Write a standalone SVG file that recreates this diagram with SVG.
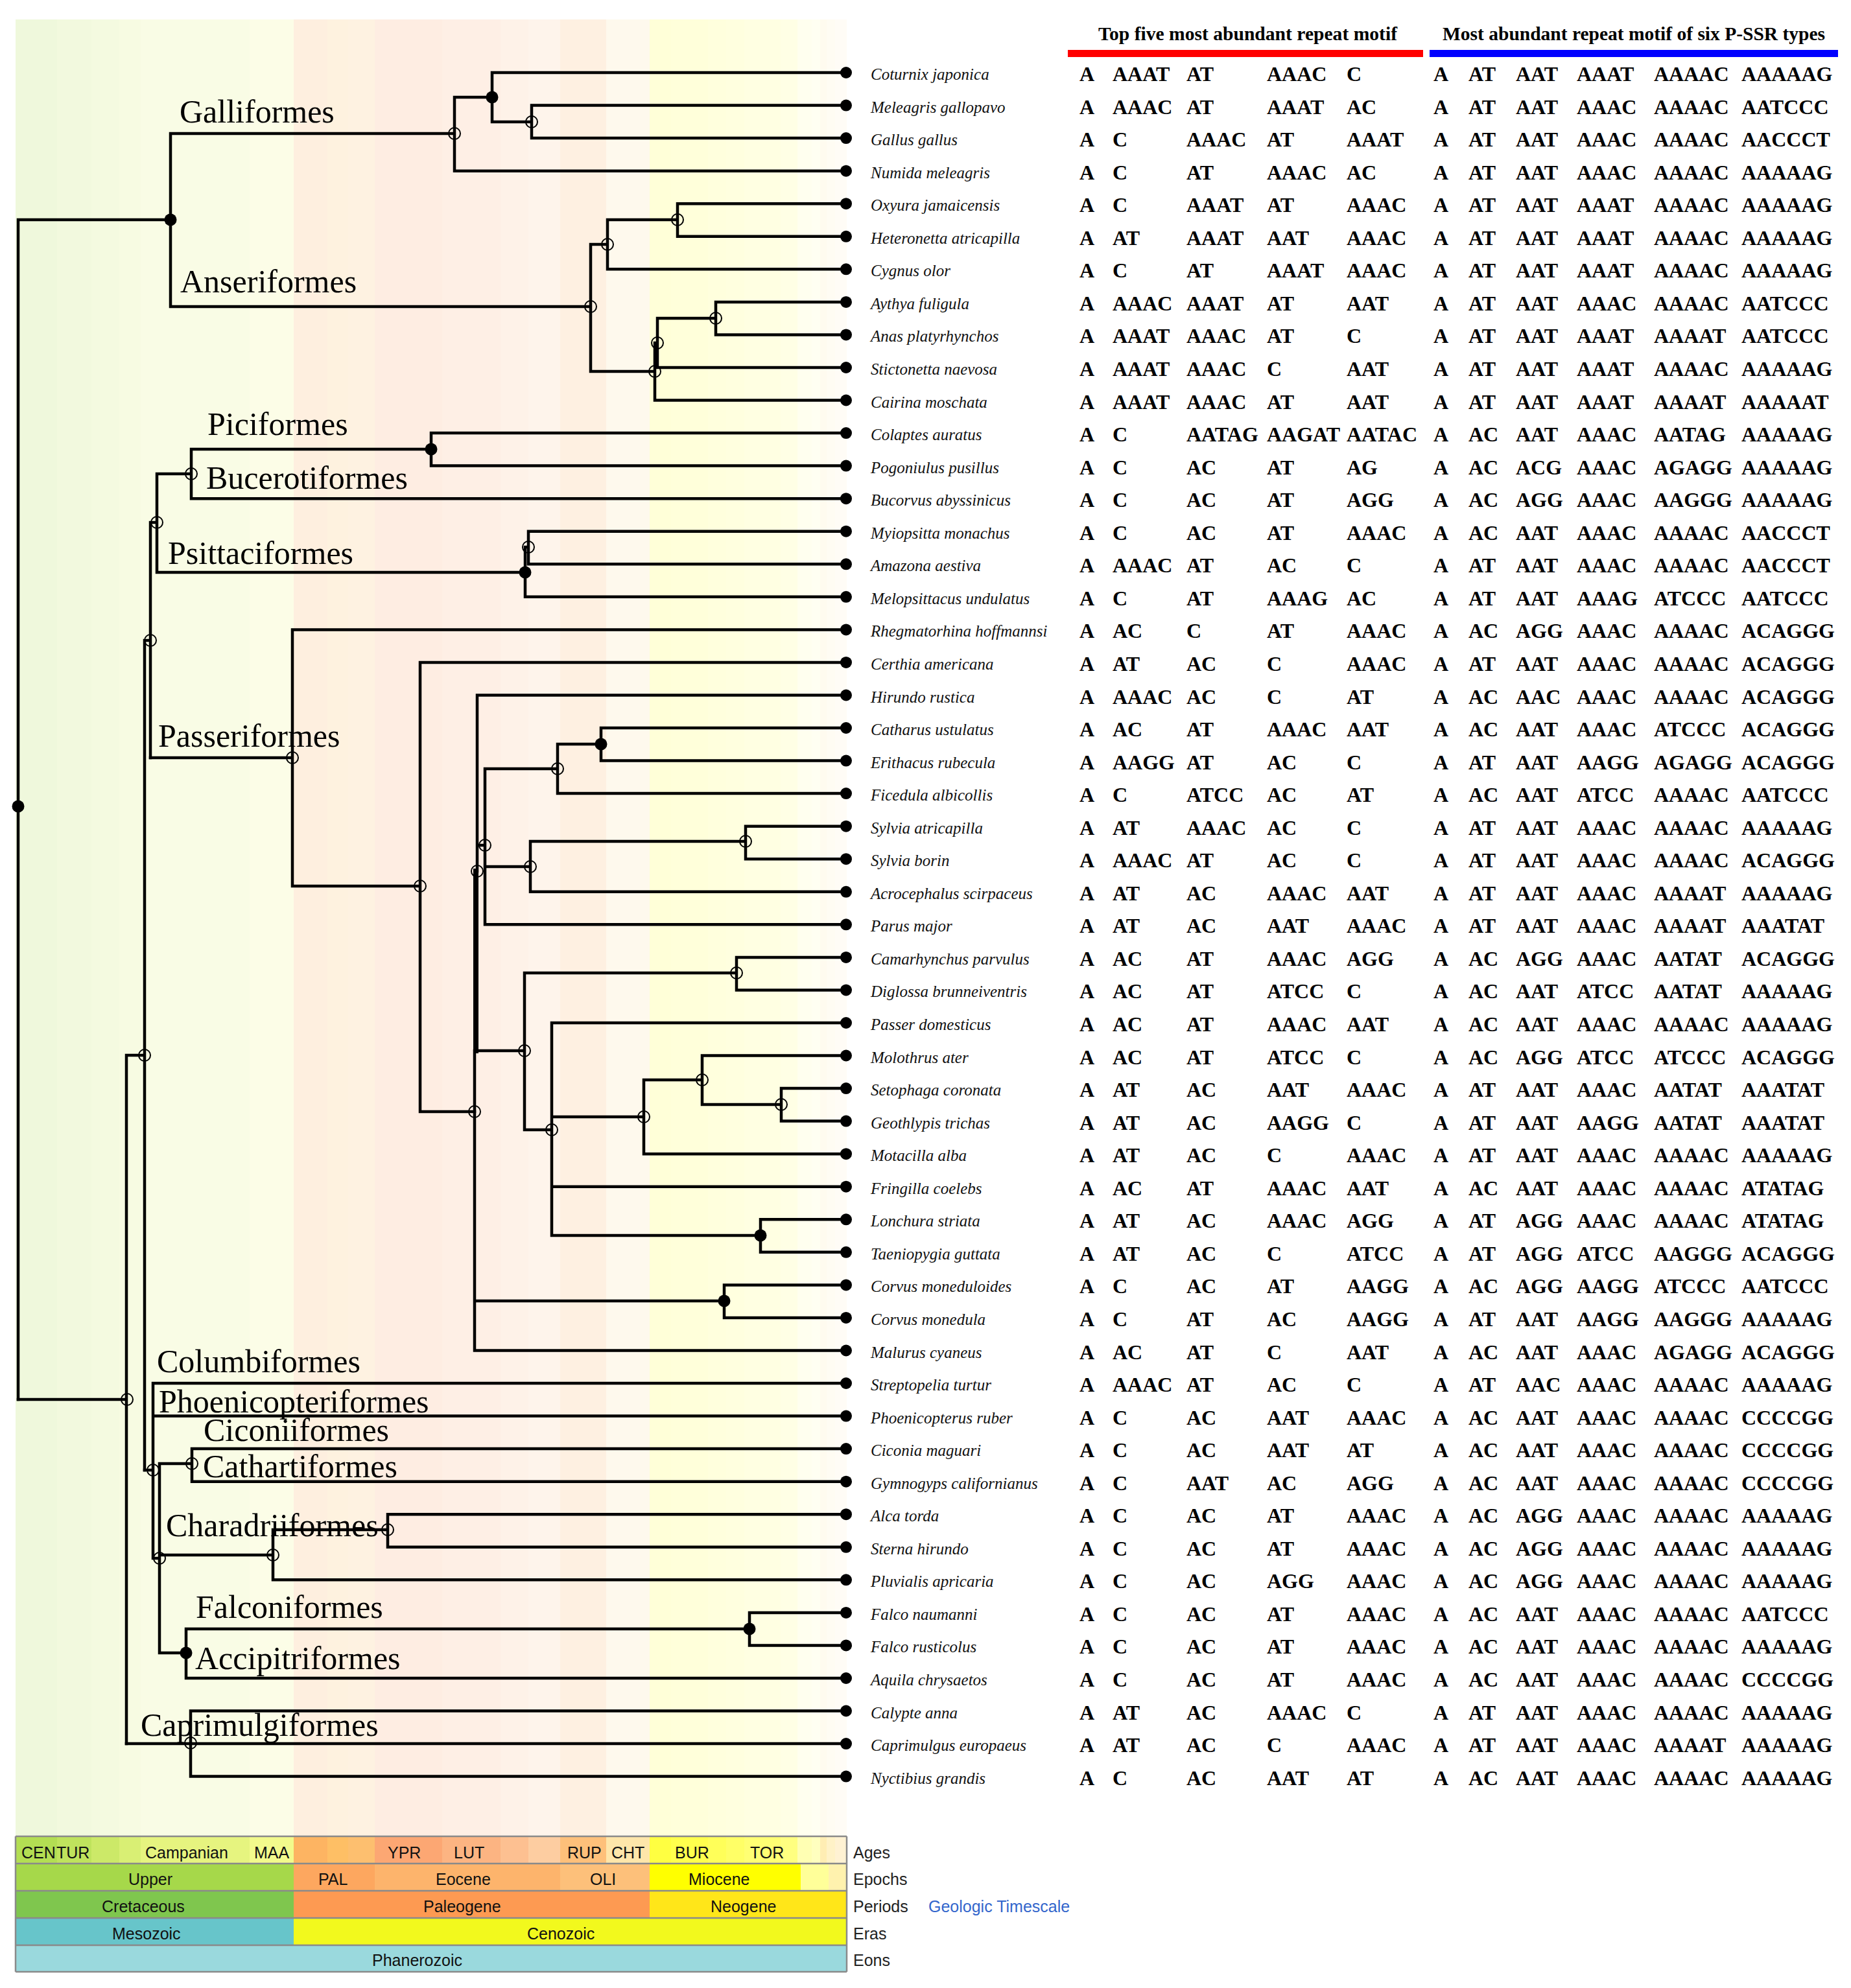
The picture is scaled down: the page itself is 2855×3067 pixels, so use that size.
<svg xmlns="http://www.w3.org/2000/svg" width="2855" height="3067" viewBox="0 0 2855 3067">
<defs>
<style>
.br{stroke:#000;stroke-width:4.5;fill:none;stroke-linecap:square}
.on{fill:none;stroke:#000;stroke-width:2}
.fn{fill:#000}
.lf{fill:#000}
.sp{font-family:"Liberation Serif","Times New Roman",serif;font-style:italic;font-size:25px;fill:#111}
.m{font-family:"Liberation Serif","Times New Roman",serif;font-weight:bold;font-size:32px;fill:#000}
.cl{font-family:"Liberation Serif","Times New Roman",serif;font-size:50px;fill:#000}
.hd{font-family:"Liberation Serif","Times New Roman",serif;font-weight:bold;font-size:29px;fill:#000}
.ts{font-family:"Liberation Sans",Arial,sans-serif;font-size:25px;fill:#111}
.tl{font-family:"Liberation Sans",Arial,sans-serif;font-size:25px;fill:#222}
</style>
</defs>
<rect x="0" y="0" width="2855" height="3067" fill="#fff"/>
<g id="background-stripes" opacity="0.2">
<rect x="24" y="30" width="64" height="2802" fill="#B3DE53"/>
<rect x="88" y="30" width="53" height="2802" fill="#BFE35D"/>
<rect x="141" y="30" width="43" height="2802" fill="#CCE968"/>
<rect x="184" y="30" width="33" height="2802" fill="#D9EF74"/>
<rect x="217" y="30" width="168" height="2802" fill="#E6F47F"/>
<rect x="385" y="30" width="68" height="2802" fill="#F2FA8C"/>
<rect x="453" y="30" width="52" height="2802" fill="#FDB462"/>
<rect x="505" y="30" width="32" height="2802" fill="#FEBF65"/>
<rect x="537" y="30" width="41" height="2802" fill="#FDBF6F"/>
<rect x="578" y="30" width="104" height="2802" fill="#FCA773"/>
<rect x="682" y="30" width="90" height="2802" fill="#FCB482"/>
<rect x="772" y="30" width="43" height="2802" fill="#FDC091"/>
<rect x="815" y="30" width="49" height="2802" fill="#FDCDA1"/>
<rect x="864" y="30" width="71" height="2802" fill="#FEB96C"/>
<rect x="935" y="30" width="67" height="2802" fill="#FEE6AA"/>
<rect x="1002" y="30" width="33" height="2802" fill="#FFFF41"/>
<rect x="1035" y="30" width="57" height="2802" fill="#FFFF4D"/>
<rect x="1092" y="30" width="28" height="2802" fill="#FFFF59"/>
<rect x="1120" y="30" width="28" height="2802" fill="#FFFF66"/>
<rect x="1148" y="30" width="56" height="2802" fill="#FFFF73"/>
<rect x="1204" y="30" width="26" height="2802" fill="#FFFF80"/>
<rect x="1230" y="30" width="22" height="2802" fill="#FFFFB3"/>
<rect x="1252" y="30" width="13" height="2802" fill="#FFFFBF"/>
<rect x="1265" y="30" width="10" height="2802" fill="#FFEDB3"/>
<rect x="1275" y="30" width="13" height="2802" fill="#FFF2C7"/>
<rect x="1288" y="30" width="18" height="2802" fill="#FFF2D3"/>
</g>

<g id="headers">
<text class="hd" x="1694" y="62" textLength="461" lengthAdjust="spacingAndGlyphs">Top five most abundant repeat motif</text>
<rect x="1647" y="77" width="548" height="11" fill="#ff0000"/>
<text class="hd" x="2225" y="62" textLength="590" lengthAdjust="spacingAndGlyphs">Most abundant repeat motif of six P-SSR types</text>
<rect x="2205" y="77" width="630" height="11" fill="#0000ff"/>
</g>

<g id="connectors" class="br">
<path d="M28 339V2159M28 339H263M263 206V473M263 206H701M701 150V263.7M701 150H759M759 112V188M759 112H1305M759 188H820M820 162.6V213.1M820 162.6H1305M820 213.1H1305M701 263.7H1305M263 473H911M911 377V573M911 377H937M937 339V415.3M937 339H1045M1045 314.2V364.8M1045 314.2H1305M1045 364.8H1305M937 415.3H1305M911 573H1010M1010 529V617.5M1010 617.5H1305M1014 491V567M1014 491H1104M1104 465.9V516.4M1104 465.9H1305M1104 516.4H1305M1014 567H1305"/>
<path d="M195 1628V2690M28 2159H195M195 1628H223M223 988V2268M223 988H232M232 806V1169M232 806H242M242 731V883M242 731H295M295 693V769.2M295 693H665M665 668.1V718.6M665 668.1H1305M665 718.6H1305M295 769.2H1305M242 883H810M810 844V920.8M810 844H815M815 819.7V870.3M815 819.7H1305M815 870.3H1305M810 920.8H1305"/>
<path d="M232 1169H451M451 971.4V1367M451 971.4H1305M451 1367H648M648 1021.9V1715M648 1021.9H1305M648 1715H732M736 1072.5V1344M736 1072.5H1305M736 1304H748M748 1186V1426.3M748 1186H860M860 1148V1224.1M860 1148H927M927 1123V1173.6M927 1123H1305M927 1173.6H1305M860 1224.1H1305M748 1337H818M818 1298V1375.8M818 1298H1150M1150 1274.7V1325.2M1150 1274.7H1305M1150 1325.2H1305M818 1375.8H1305M748 1426.3H1305"/>
<path d="M732 1621V2083.5M732 1621H809M809 1501V1743M809 1501H1136M1136 1476.9V1527.4M1136 1476.9H1305M1136 1527.4H1305M809 1743H851M851 1578V1906M851 1578H1305M851 1723H993M993 1666V1780.2M993 1666H1083M1083 1628.5V1704M1083 1628.5H1305M1083 1704H1205M1205 1679.1V1729.6M1205 1679.1H1305M1205 1729.6H1305M993 1780.2H1305M851 1830.7H1305M851 1906H1173M1173 1881.3V1931.8M1173 1881.3H1305M1173 1931.8H1305M732 2007H1117M1117 1982.4V2032.9M1117 1982.4H1305M1117 2032.9H1305M732 2083.5H1305"/>
<path d="M734 1344V1621" stroke-width="8"/>
<path d="M223 2268H236M236 2134V2404M236 2134H1305M236 2184.6H1305M236 2404H246M246 2258V2550M246 2258H296M296 2235.1V2285.7M296 2235.1H1305M296 2285.7H1305M246 2399H421M421 2360V2437.3M421 2360H598M598 2336.2V2386.8M598 2336.2H1305M598 2386.8H1305M421 2437.3H1305M246 2550H287M287 2513V2589M287 2513H1156M1156 2487.9V2538.4M1156 2487.9H1305M1156 2538.4H1305M287 2589H1305M195 2690H1305M294 2639.5V2740.6M294 2639.5H1305M294 2740.6H1305"/>
</g>

<g id="clade-labels" class="cl">
<text x="277" y="189">Galliformes</text>
<text x="278" y="451">Anseriformes</text>
<text x="320" y="671">Piciformes</text>
<text x="318" y="754">Bucerotiformes</text>
<text x="259" y="870">Psittaciformes</text>
<text x="244" y="1152">Passeriformes</text>
<text x="242" y="2117">Columbiformes</text>
<text x="245" y="2179">Phoenicopteriformes</text>
<text x="314" y="2223">Ciconiiformes</text>
<text x="313" y="2279">Cathartiformes</text>
<text x="256" y="2370">Charadriiformes</text>
<text x="302" y="2496">Falconiformes</text>
<text x="301" y="2575">Accipitriformes</text>
<text x="217" y="2678">Caprimulgiformes</text>
</g>

<g id="internal-nodes">
<g id="n-root"><circle class="fn" cx="28" cy="1244" r="9.5"/></g>
<g id="n-galloanserae"><circle class="fn" cx="263" cy="339" r="9.5"/></g>
<g id="n-galliformes"><circle class="on" cx="701" cy="206" r="9"/></g>
<g id="n-gall-a"><circle class="fn" cx="759" cy="150" r="9.5"/></g>
<g id="n-gall-b"><circle class="on" cx="820" cy="188" r="9"/></g>
<g id="n-anseriformes"><circle class="on" cx="911" cy="473" r="9"/></g>
<g id="n-ans-a"><circle class="on" cx="937" cy="377" r="9"/></g>
<g id="n-ans-b"><circle class="on" cx="1045" cy="339" r="9"/></g>
<g id="n-ans-c"><circle class="on" cx="1010" cy="573" r="9"/></g>
<g id="n-ans-d"><circle class="on" cx="1014" cy="529" r="9"/></g>
<g id="n-ans-e"><circle class="on" cx="1104" cy="491" r="9"/></g>
<g id="n-piciformes"><circle class="fn" cx="665" cy="693" r="9.5"/></g>
<g id="n-bucerotiformes"><circle class="on" cx="295" cy="731" r="9"/></g>
<g id="n-land-a"><circle class="on" cx="242" cy="806" r="9"/></g>
<g id="n-psittaciformes"><circle class="fn" cx="810" cy="883" r="9.5"/></g>
<g id="n-psitt-a"><circle class="on" cx="815" cy="844" r="9"/></g>
<g id="n-land-b"><circle class="on" cx="232" cy="988" r="9"/></g>
<g id="n-neoaves"><circle class="on" cx="223" cy="1628" r="9"/></g>
<g id="n-neognath"><circle class="on" cx="196" cy="2159" r="9"/></g>
<g id="n-passeriformes"><circle class="on" cx="451" cy="1169" r="9"/></g>
<g id="n-pass-a"><circle class="on" cx="648" cy="1367" r="9"/></g>
<g id="n-pass-b"><circle class="on" cx="732" cy="1715" r="9"/></g>
<g id="n-pass-c"><circle class="on" cx="736" cy="1344" r="9"/></g>
<g id="n-pass-d"><circle class="on" cx="748" cy="1304" r="9"/></g>
<g id="n-pass-e"><circle class="on" cx="860" cy="1186" r="9"/></g>
<g id="n-pass-f"><circle class="fn" cx="927" cy="1148" r="9.5"/></g>
<g id="n-pass-g"><circle class="on" cx="818" cy="1337" r="9"/></g>
<g id="n-pass-h"><circle class="on" cx="1150" cy="1298" r="9"/></g>
<g id="n-pass-i"><circle class="on" cx="809" cy="1621" r="9"/></g>
<g id="n-pass-j"><circle class="on" cx="1136" cy="1501" r="9"/></g>
<g id="n-pass-k"><circle class="on" cx="851" cy="1743" r="9"/></g>
<g id="n-pass-l"><circle class="on" cx="993" cy="1723" r="9"/></g>
<g id="n-pass-m"><circle class="on" cx="1083" cy="1666" r="9"/></g>
<g id="n-pass-n"><circle class="on" cx="1205" cy="1704" r="9"/></g>
<g id="n-pass-o"><circle class="fn" cx="1173" cy="1906" r="9.5"/></g>
<g id="n-corvus"><circle class="fn" cx="1117" cy="2007" r="9.5"/></g>
<g id="n-water-a"><circle class="on" cx="236" cy="2268" r="9"/></g>
<g id="n-water-b"><circle class="on" cx="246" cy="2404" r="9"/></g>
<g id="n-ciconii"><circle class="on" cx="296" cy="2258" r="9"/></g>
<g id="n-charadrii"><circle class="on" cx="421" cy="2399" r="9"/></g>
<g id="n-charadrii-b"><circle class="on" cx="598" cy="2360" r="9"/></g>
<g id="n-raptors"><circle class="fn" cx="287" cy="2550" r="9.5"/></g>
<g id="n-falco"><circle class="fn" cx="1156" cy="2513" r="9.5"/></g>
<g id="n-caprimulgi"><circle class="on" cx="294" cy="2689" r="9"/></g>
</g>

<g id="leaves">
<g id="leaf01" transform="translate(0 112)"><circle class="lf" cx="1305" cy="0" r="9"/><text class="sp" x="1343" y="11">Coturnix japonica</text><text class="m" y="13"><tspan x="1665">A</tspan><tspan x="1716">AAAT</tspan><tspan x="1830">AT</tspan><tspan x="1954">AAAC</tspan><tspan x="2077">C</tspan><tspan x="2211">A</tspan><tspan x="2265">AT</tspan><tspan x="2338">AAT</tspan><tspan x="2432">AAAT</tspan><tspan x="2551">AAAAC</tspan><tspan x="2686">AAAAAG</tspan></text></g>
<g id="leaf02" transform="translate(0 162.6)"><circle class="lf" cx="1305" cy="0" r="9"/><text class="sp" x="1343" y="11">Meleagris gallopavo</text><text class="m" y="13"><tspan x="1665">A</tspan><tspan x="1716">AAAC</tspan><tspan x="1830">AT</tspan><tspan x="1954">AAAT</tspan><tspan x="2077">AC</tspan><tspan x="2211">A</tspan><tspan x="2265">AT</tspan><tspan x="2338">AAT</tspan><tspan x="2432">AAAC</tspan><tspan x="2551">AAAAC</tspan><tspan x="2686">AATCCC</tspan></text></g>
<g id="leaf03" transform="translate(0 213.1)"><circle class="lf" cx="1305" cy="0" r="9"/><text class="sp" x="1343" y="11">Gallus gallus</text><text class="m" y="13"><tspan x="1665">A</tspan><tspan x="1716">C</tspan><tspan x="1830">AAAC</tspan><tspan x="1954">AT</tspan><tspan x="2077">AAAT</tspan><tspan x="2211">A</tspan><tspan x="2265">AT</tspan><tspan x="2338">AAT</tspan><tspan x="2432">AAAC</tspan><tspan x="2551">AAAAC</tspan><tspan x="2686">AACCCT</tspan></text></g>
<g id="leaf04" transform="translate(0 263.7)"><circle class="lf" cx="1305" cy="0" r="9"/><text class="sp" x="1343" y="11">Numida meleagris</text><text class="m" y="13"><tspan x="1665">A</tspan><tspan x="1716">C</tspan><tspan x="1830">AT</tspan><tspan x="1954">AAAC</tspan><tspan x="2077">AC</tspan><tspan x="2211">A</tspan><tspan x="2265">AT</tspan><tspan x="2338">AAT</tspan><tspan x="2432">AAAC</tspan><tspan x="2551">AAAAC</tspan><tspan x="2686">AAAAAG</tspan></text></g>
<g id="leaf05" transform="translate(0 314.2)"><circle class="lf" cx="1305" cy="0" r="9"/><text class="sp" x="1343" y="11">Oxyura jamaicensis</text><text class="m" y="13"><tspan x="1665">A</tspan><tspan x="1716">C</tspan><tspan x="1830">AAAT</tspan><tspan x="1954">AT</tspan><tspan x="2077">AAAC</tspan><tspan x="2211">A</tspan><tspan x="2265">AT</tspan><tspan x="2338">AAT</tspan><tspan x="2432">AAAT</tspan><tspan x="2551">AAAAC</tspan><tspan x="2686">AAAAAG</tspan></text></g>
<g id="leaf06" transform="translate(0 364.8)"><circle class="lf" cx="1305" cy="0" r="9"/><text class="sp" x="1343" y="11">Heteronetta atricapilla</text><text class="m" y="13"><tspan x="1665">A</tspan><tspan x="1716">AT</tspan><tspan x="1830">AAAT</tspan><tspan x="1954">AAT</tspan><tspan x="2077">AAAC</tspan><tspan x="2211">A</tspan><tspan x="2265">AT</tspan><tspan x="2338">AAT</tspan><tspan x="2432">AAAT</tspan><tspan x="2551">AAAAC</tspan><tspan x="2686">AAAAAG</tspan></text></g>
<g id="leaf07" transform="translate(0 415.3)"><circle class="lf" cx="1305" cy="0" r="9"/><text class="sp" x="1343" y="11">Cygnus olor</text><text class="m" y="13"><tspan x="1665">A</tspan><tspan x="1716">C</tspan><tspan x="1830">AT</tspan><tspan x="1954">AAAT</tspan><tspan x="2077">AAAC</tspan><tspan x="2211">A</tspan><tspan x="2265">AT</tspan><tspan x="2338">AAT</tspan><tspan x="2432">AAAT</tspan><tspan x="2551">AAAAC</tspan><tspan x="2686">AAAAAG</tspan></text></g>
<g id="leaf08" transform="translate(0 465.9)"><circle class="lf" cx="1305" cy="0" r="9"/><text class="sp" x="1343" y="11">Aythya fuligula</text><text class="m" y="13"><tspan x="1665">A</tspan><tspan x="1716">AAAC</tspan><tspan x="1830">AAAT</tspan><tspan x="1954">AT</tspan><tspan x="2077">AAT</tspan><tspan x="2211">A</tspan><tspan x="2265">AT</tspan><tspan x="2338">AAT</tspan><tspan x="2432">AAAC</tspan><tspan x="2551">AAAAC</tspan><tspan x="2686">AATCCC</tspan></text></g>
<g id="leaf09" transform="translate(0 516.4)"><circle class="lf" cx="1305" cy="0" r="9"/><text class="sp" x="1343" y="11">Anas platyrhynchos</text><text class="m" y="13"><tspan x="1665">A</tspan><tspan x="1716">AAAT</tspan><tspan x="1830">AAAC</tspan><tspan x="1954">AT</tspan><tspan x="2077">C</tspan><tspan x="2211">A</tspan><tspan x="2265">AT</tspan><tspan x="2338">AAT</tspan><tspan x="2432">AAAT</tspan><tspan x="2551">AAAAT</tspan><tspan x="2686">AATCCC</tspan></text></g>
<g id="leaf10" transform="translate(0 567)"><circle class="lf" cx="1305" cy="0" r="9"/><text class="sp" x="1343" y="11">Stictonetta naevosa</text><text class="m" y="13"><tspan x="1665">A</tspan><tspan x="1716">AAAT</tspan><tspan x="1830">AAAC</tspan><tspan x="1954">C</tspan><tspan x="2077">AAT</tspan><tspan x="2211">A</tspan><tspan x="2265">AT</tspan><tspan x="2338">AAT</tspan><tspan x="2432">AAAT</tspan><tspan x="2551">AAAAC</tspan><tspan x="2686">AAAAAG</tspan></text></g>
<g id="leaf11" transform="translate(0 617.5)"><circle class="lf" cx="1305" cy="0" r="9"/><text class="sp" x="1343" y="11">Cairina moschata</text><text class="m" y="13"><tspan x="1665">A</tspan><tspan x="1716">AAAT</tspan><tspan x="1830">AAAC</tspan><tspan x="1954">AT</tspan><tspan x="2077">AAT</tspan><tspan x="2211">A</tspan><tspan x="2265">AT</tspan><tspan x="2338">AAT</tspan><tspan x="2432">AAAT</tspan><tspan x="2551">AAAAT</tspan><tspan x="2686">AAAAAT</tspan></text></g>
<g id="leaf12" transform="translate(0 668.1)"><circle class="lf" cx="1305" cy="0" r="9"/><text class="sp" x="1343" y="11">Colaptes auratus</text><text class="m" y="13"><tspan x="1665">A</tspan><tspan x="1716">C</tspan><tspan x="1830">AATAG</tspan><tspan x="1954">AAGAT</tspan><tspan x="2077">AATAC</tspan><tspan x="2211">A</tspan><tspan x="2265">AC</tspan><tspan x="2338">AAT</tspan><tspan x="2432">AAAC</tspan><tspan x="2551">AATAG</tspan><tspan x="2686">AAAAAG</tspan></text></g>
<g id="leaf13" transform="translate(0 718.6)"><circle class="lf" cx="1305" cy="0" r="9"/><text class="sp" x="1343" y="11">Pogoniulus pusillus</text><text class="m" y="13"><tspan x="1665">A</tspan><tspan x="1716">C</tspan><tspan x="1830">AC</tspan><tspan x="1954">AT</tspan><tspan x="2077">AG</tspan><tspan x="2211">A</tspan><tspan x="2265">AC</tspan><tspan x="2338">ACG</tspan><tspan x="2432">AAAC</tspan><tspan x="2551">AGAGG</tspan><tspan x="2686">AAAAAG</tspan></text></g>
<g id="leaf14" transform="translate(0 769.2)"><circle class="lf" cx="1305" cy="0" r="9"/><text class="sp" x="1343" y="11">Bucorvus abyssinicus</text><text class="m" y="13"><tspan x="1665">A</tspan><tspan x="1716">C</tspan><tspan x="1830">AC</tspan><tspan x="1954">AT</tspan><tspan x="2077">AGG</tspan><tspan x="2211">A</tspan><tspan x="2265">AC</tspan><tspan x="2338">AGG</tspan><tspan x="2432">AAAC</tspan><tspan x="2551">AAGGG</tspan><tspan x="2686">AAAAAG</tspan></text></g>
<g id="leaf15" transform="translate(0 819.7)"><circle class="lf" cx="1305" cy="0" r="9"/><text class="sp" x="1343" y="11">Myiopsitta monachus</text><text class="m" y="13"><tspan x="1665">A</tspan><tspan x="1716">C</tspan><tspan x="1830">AC</tspan><tspan x="1954">AT</tspan><tspan x="2077">AAAC</tspan><tspan x="2211">A</tspan><tspan x="2265">AC</tspan><tspan x="2338">AAT</tspan><tspan x="2432">AAAC</tspan><tspan x="2551">AAAAC</tspan><tspan x="2686">AACCCT</tspan></text></g>
<g id="leaf16" transform="translate(0 870.3)"><circle class="lf" cx="1305" cy="0" r="9"/><text class="sp" x="1343" y="11">Amazona aestiva</text><text class="m" y="13"><tspan x="1665">A</tspan><tspan x="1716">AAAC</tspan><tspan x="1830">AT</tspan><tspan x="1954">AC</tspan><tspan x="2077">C</tspan><tspan x="2211">A</tspan><tspan x="2265">AT</tspan><tspan x="2338">AAT</tspan><tspan x="2432">AAAC</tspan><tspan x="2551">AAAAC</tspan><tspan x="2686">AACCCT</tspan></text></g>
<g id="leaf17" transform="translate(0 920.8)"><circle class="lf" cx="1305" cy="0" r="9"/><text class="sp" x="1343" y="11">Melopsittacus undulatus</text><text class="m" y="13"><tspan x="1665">A</tspan><tspan x="1716">C</tspan><tspan x="1830">AT</tspan><tspan x="1954">AAAG</tspan><tspan x="2077">AC</tspan><tspan x="2211">A</tspan><tspan x="2265">AT</tspan><tspan x="2338">AAT</tspan><tspan x="2432">AAAG</tspan><tspan x="2551">ATCCC</tspan><tspan x="2686">AATCCC</tspan></text></g>
<g id="leaf18" transform="translate(0 971.4)"><circle class="lf" cx="1305" cy="0" r="9"/><text class="sp" x="1343" y="11">Rhegmatorhina hoffmannsi</text><text class="m" y="13"><tspan x="1665">A</tspan><tspan x="1716">AC</tspan><tspan x="1830">C</tspan><tspan x="1954">AT</tspan><tspan x="2077">AAAC</tspan><tspan x="2211">A</tspan><tspan x="2265">AC</tspan><tspan x="2338">AGG</tspan><tspan x="2432">AAAC</tspan><tspan x="2551">AAAAC</tspan><tspan x="2686">ACAGGG</tspan></text></g>
<g id="leaf19" transform="translate(0 1021.9)"><circle class="lf" cx="1305" cy="0" r="9"/><text class="sp" x="1343" y="11">Certhia americana</text><text class="m" y="13"><tspan x="1665">A</tspan><tspan x="1716">AT</tspan><tspan x="1830">AC</tspan><tspan x="1954">C</tspan><tspan x="2077">AAAC</tspan><tspan x="2211">A</tspan><tspan x="2265">AT</tspan><tspan x="2338">AAT</tspan><tspan x="2432">AAAC</tspan><tspan x="2551">AAAAC</tspan><tspan x="2686">ACAGGG</tspan></text></g>
<g id="leaf20" transform="translate(0 1072.5)"><circle class="lf" cx="1305" cy="0" r="9"/><text class="sp" x="1343" y="11">Hirundo rustica</text><text class="m" y="13"><tspan x="1665">A</tspan><tspan x="1716">AAAC</tspan><tspan x="1830">AC</tspan><tspan x="1954">C</tspan><tspan x="2077">AT</tspan><tspan x="2211">A</tspan><tspan x="2265">AC</tspan><tspan x="2338">AAC</tspan><tspan x="2432">AAAC</tspan><tspan x="2551">AAAAC</tspan><tspan x="2686">ACAGGG</tspan></text></g>
<g id="leaf21" transform="translate(0 1123)"><circle class="lf" cx="1305" cy="0" r="9"/><text class="sp" x="1343" y="11">Catharus ustulatus</text><text class="m" y="13"><tspan x="1665">A</tspan><tspan x="1716">AC</tspan><tspan x="1830">AT</tspan><tspan x="1954">AAAC</tspan><tspan x="2077">AAT</tspan><tspan x="2211">A</tspan><tspan x="2265">AC</tspan><tspan x="2338">AAT</tspan><tspan x="2432">AAAC</tspan><tspan x="2551">ATCCC</tspan><tspan x="2686">ACAGGG</tspan></text></g>
<g id="leaf22" transform="translate(0 1173.6)"><circle class="lf" cx="1305" cy="0" r="9"/><text class="sp" x="1343" y="11">Erithacus rubecula</text><text class="m" y="13"><tspan x="1665">A</tspan><tspan x="1716">AAGG</tspan><tspan x="1830">AT</tspan><tspan x="1954">AC</tspan><tspan x="2077">C</tspan><tspan x="2211">A</tspan><tspan x="2265">AT</tspan><tspan x="2338">AAT</tspan><tspan x="2432">AAGG</tspan><tspan x="2551">AGAGG</tspan><tspan x="2686">ACAGGG</tspan></text></g>
<g id="leaf23" transform="translate(0 1224.1)"><circle class="lf" cx="1305" cy="0" r="9"/><text class="sp" x="1343" y="11">Ficedula albicollis</text><text class="m" y="13"><tspan x="1665">A</tspan><tspan x="1716">C</tspan><tspan x="1830">ATCC</tspan><tspan x="1954">AC</tspan><tspan x="2077">AT</tspan><tspan x="2211">A</tspan><tspan x="2265">AC</tspan><tspan x="2338">AAT</tspan><tspan x="2432">ATCC</tspan><tspan x="2551">AAAAC</tspan><tspan x="2686">AATCCC</tspan></text></g>
<g id="leaf24" transform="translate(0 1274.7)"><circle class="lf" cx="1305" cy="0" r="9"/><text class="sp" x="1343" y="11">Sylvia atricapilla</text><text class="m" y="13"><tspan x="1665">A</tspan><tspan x="1716">AT</tspan><tspan x="1830">AAAC</tspan><tspan x="1954">AC</tspan><tspan x="2077">C</tspan><tspan x="2211">A</tspan><tspan x="2265">AT</tspan><tspan x="2338">AAT</tspan><tspan x="2432">AAAC</tspan><tspan x="2551">AAAAC</tspan><tspan x="2686">AAAAAG</tspan></text></g>
<g id="leaf25" transform="translate(0 1325.2)"><circle class="lf" cx="1305" cy="0" r="9"/><text class="sp" x="1343" y="11">Sylvia borin</text><text class="m" y="13"><tspan x="1665">A</tspan><tspan x="1716">AAAC</tspan><tspan x="1830">AT</tspan><tspan x="1954">AC</tspan><tspan x="2077">C</tspan><tspan x="2211">A</tspan><tspan x="2265">AT</tspan><tspan x="2338">AAT</tspan><tspan x="2432">AAAC</tspan><tspan x="2551">AAAAC</tspan><tspan x="2686">ACAGGG</tspan></text></g>
<g id="leaf26" transform="translate(0 1375.8)"><circle class="lf" cx="1305" cy="0" r="9"/><text class="sp" x="1343" y="11">Acrocephalus scirpaceus</text><text class="m" y="13"><tspan x="1665">A</tspan><tspan x="1716">AT</tspan><tspan x="1830">AC</tspan><tspan x="1954">AAAC</tspan><tspan x="2077">AAT</tspan><tspan x="2211">A</tspan><tspan x="2265">AT</tspan><tspan x="2338">AAT</tspan><tspan x="2432">AAAC</tspan><tspan x="2551">AAAAT</tspan><tspan x="2686">AAAAAG</tspan></text></g>
<g id="leaf27" transform="translate(0 1426.3)"><circle class="lf" cx="1305" cy="0" r="9"/><text class="sp" x="1343" y="11">Parus major</text><text class="m" y="13"><tspan x="1665">A</tspan><tspan x="1716">AT</tspan><tspan x="1830">AC</tspan><tspan x="1954">AAT</tspan><tspan x="2077">AAAC</tspan><tspan x="2211">A</tspan><tspan x="2265">AT</tspan><tspan x="2338">AAT</tspan><tspan x="2432">AAAC</tspan><tspan x="2551">AAAAT</tspan><tspan x="2686">AAATAT</tspan></text></g>
<g id="leaf28" transform="translate(0 1476.9)"><circle class="lf" cx="1305" cy="0" r="9"/><text class="sp" x="1343" y="11">Camarhynchus parvulus</text><text class="m" y="13"><tspan x="1665">A</tspan><tspan x="1716">AC</tspan><tspan x="1830">AT</tspan><tspan x="1954">AAAC</tspan><tspan x="2077">AGG</tspan><tspan x="2211">A</tspan><tspan x="2265">AC</tspan><tspan x="2338">AGG</tspan><tspan x="2432">AAAC</tspan><tspan x="2551">AATAT</tspan><tspan x="2686">ACAGGG</tspan></text></g>
<g id="leaf29" transform="translate(0 1527.4)"><circle class="lf" cx="1305" cy="0" r="9"/><text class="sp" x="1343" y="11">Diglossa brunneiventris</text><text class="m" y="13"><tspan x="1665">A</tspan><tspan x="1716">AC</tspan><tspan x="1830">AT</tspan><tspan x="1954">ATCC</tspan><tspan x="2077">C</tspan><tspan x="2211">A</tspan><tspan x="2265">AC</tspan><tspan x="2338">AAT</tspan><tspan x="2432">ATCC</tspan><tspan x="2551">AATAT</tspan><tspan x="2686">AAAAAG</tspan></text></g>
<g id="leaf30" transform="translate(0 1578)"><circle class="lf" cx="1305" cy="0" r="9"/><text class="sp" x="1343" y="11">Passer domesticus</text><text class="m" y="13"><tspan x="1665">A</tspan><tspan x="1716">AC</tspan><tspan x="1830">AT</tspan><tspan x="1954">AAAC</tspan><tspan x="2077">AAT</tspan><tspan x="2211">A</tspan><tspan x="2265">AC</tspan><tspan x="2338">AAT</tspan><tspan x="2432">AAAC</tspan><tspan x="2551">AAAAC</tspan><tspan x="2686">AAAAAG</tspan></text></g>
<g id="leaf31" transform="translate(0 1628.5)"><circle class="lf" cx="1305" cy="0" r="9"/><text class="sp" x="1343" y="11">Molothrus ater</text><text class="m" y="13"><tspan x="1665">A</tspan><tspan x="1716">AC</tspan><tspan x="1830">AT</tspan><tspan x="1954">ATCC</tspan><tspan x="2077">C</tspan><tspan x="2211">A</tspan><tspan x="2265">AC</tspan><tspan x="2338">AGG</tspan><tspan x="2432">ATCC</tspan><tspan x="2551">ATCCC</tspan><tspan x="2686">ACAGGG</tspan></text></g>
<g id="leaf32" transform="translate(0 1679.1)"><circle class="lf" cx="1305" cy="0" r="9"/><text class="sp" x="1343" y="11">Setophaga coronata</text><text class="m" y="13"><tspan x="1665">A</tspan><tspan x="1716">AT</tspan><tspan x="1830">AC</tspan><tspan x="1954">AAT</tspan><tspan x="2077">AAAC</tspan><tspan x="2211">A</tspan><tspan x="2265">AT</tspan><tspan x="2338">AAT</tspan><tspan x="2432">AAAC</tspan><tspan x="2551">AATAT</tspan><tspan x="2686">AAATAT</tspan></text></g>
<g id="leaf33" transform="translate(0 1729.6)"><circle class="lf" cx="1305" cy="0" r="9"/><text class="sp" x="1343" y="11">Geothlypis trichas</text><text class="m" y="13"><tspan x="1665">A</tspan><tspan x="1716">AT</tspan><tspan x="1830">AC</tspan><tspan x="1954">AAGG</tspan><tspan x="2077">C</tspan><tspan x="2211">A</tspan><tspan x="2265">AT</tspan><tspan x="2338">AAT</tspan><tspan x="2432">AAGG</tspan><tspan x="2551">AATAT</tspan><tspan x="2686">AAATAT</tspan></text></g>
<g id="leaf34" transform="translate(0 1780.2)"><circle class="lf" cx="1305" cy="0" r="9"/><text class="sp" x="1343" y="11">Motacilla alba</text><text class="m" y="13"><tspan x="1665">A</tspan><tspan x="1716">AT</tspan><tspan x="1830">AC</tspan><tspan x="1954">C</tspan><tspan x="2077">AAAC</tspan><tspan x="2211">A</tspan><tspan x="2265">AT</tspan><tspan x="2338">AAT</tspan><tspan x="2432">AAAC</tspan><tspan x="2551">AAAAC</tspan><tspan x="2686">AAAAAG</tspan></text></g>
<g id="leaf35" transform="translate(0 1830.7)"><circle class="lf" cx="1305" cy="0" r="9"/><text class="sp" x="1343" y="11">Fringilla coelebs</text><text class="m" y="13"><tspan x="1665">A</tspan><tspan x="1716">AC</tspan><tspan x="1830">AT</tspan><tspan x="1954">AAAC</tspan><tspan x="2077">AAT</tspan><tspan x="2211">A</tspan><tspan x="2265">AC</tspan><tspan x="2338">AAT</tspan><tspan x="2432">AAAC</tspan><tspan x="2551">AAAAC</tspan><tspan x="2686">ATATAG</tspan></text></g>
<g id="leaf36" transform="translate(0 1881.3)"><circle class="lf" cx="1305" cy="0" r="9"/><text class="sp" x="1343" y="11">Lonchura striata</text><text class="m" y="13"><tspan x="1665">A</tspan><tspan x="1716">AT</tspan><tspan x="1830">AC</tspan><tspan x="1954">AAAC</tspan><tspan x="2077">AGG</tspan><tspan x="2211">A</tspan><tspan x="2265">AT</tspan><tspan x="2338">AGG</tspan><tspan x="2432">AAAC</tspan><tspan x="2551">AAAAC</tspan><tspan x="2686">ATATAG</tspan></text></g>
<g id="leaf37" transform="translate(0 1931.8)"><circle class="lf" cx="1305" cy="0" r="9"/><text class="sp" x="1343" y="11">Taeniopygia guttata</text><text class="m" y="13"><tspan x="1665">A</tspan><tspan x="1716">AT</tspan><tspan x="1830">AC</tspan><tspan x="1954">C</tspan><tspan x="2077">ATCC</tspan><tspan x="2211">A</tspan><tspan x="2265">AT</tspan><tspan x="2338">AGG</tspan><tspan x="2432">ATCC</tspan><tspan x="2551">AAGGG</tspan><tspan x="2686">ACAGGG</tspan></text></g>
<g id="leaf38" transform="translate(0 1982.4)"><circle class="lf" cx="1305" cy="0" r="9"/><text class="sp" x="1343" y="11">Corvus moneduloides</text><text class="m" y="13"><tspan x="1665">A</tspan><tspan x="1716">C</tspan><tspan x="1830">AC</tspan><tspan x="1954">AT</tspan><tspan x="2077">AAGG</tspan><tspan x="2211">A</tspan><tspan x="2265">AC</tspan><tspan x="2338">AGG</tspan><tspan x="2432">AAGG</tspan><tspan x="2551">ATCCC</tspan><tspan x="2686">AATCCC</tspan></text></g>
<g id="leaf39" transform="translate(0 2032.9)"><circle class="lf" cx="1305" cy="0" r="9"/><text class="sp" x="1343" y="11">Corvus monedula</text><text class="m" y="13"><tspan x="1665">A</tspan><tspan x="1716">C</tspan><tspan x="1830">AT</tspan><tspan x="1954">AC</tspan><tspan x="2077">AAGG</tspan><tspan x="2211">A</tspan><tspan x="2265">AT</tspan><tspan x="2338">AAT</tspan><tspan x="2432">AAGG</tspan><tspan x="2551">AAGGG</tspan><tspan x="2686">AAAAAG</tspan></text></g>
<g id="leaf40" transform="translate(0 2083.5)"><circle class="lf" cx="1305" cy="0" r="9"/><text class="sp" x="1343" y="11">Malurus cyaneus</text><text class="m" y="13"><tspan x="1665">A</tspan><tspan x="1716">AC</tspan><tspan x="1830">AT</tspan><tspan x="1954">C</tspan><tspan x="2077">AAT</tspan><tspan x="2211">A</tspan><tspan x="2265">AC</tspan><tspan x="2338">AAT</tspan><tspan x="2432">AAAC</tspan><tspan x="2551">AGAGG</tspan><tspan x="2686">ACAGGG</tspan></text></g>
<g id="leaf41" transform="translate(0 2134)"><circle class="lf" cx="1305" cy="0" r="9"/><text class="sp" x="1343" y="11">Streptopelia turtur</text><text class="m" y="13"><tspan x="1665">A</tspan><tspan x="1716">AAAC</tspan><tspan x="1830">AT</tspan><tspan x="1954">AC</tspan><tspan x="2077">C</tspan><tspan x="2211">A</tspan><tspan x="2265">AT</tspan><tspan x="2338">AAC</tspan><tspan x="2432">AAAC</tspan><tspan x="2551">AAAAC</tspan><tspan x="2686">AAAAAG</tspan></text></g>
<g id="leaf42" transform="translate(0 2184.6)"><circle class="lf" cx="1305" cy="0" r="9"/><text class="sp" x="1343" y="11">Phoenicopterus ruber</text><text class="m" y="13"><tspan x="1665">A</tspan><tspan x="1716">C</tspan><tspan x="1830">AC</tspan><tspan x="1954">AAT</tspan><tspan x="2077">AAAC</tspan><tspan x="2211">A</tspan><tspan x="2265">AC</tspan><tspan x="2338">AAT</tspan><tspan x="2432">AAAC</tspan><tspan x="2551">AAAAC</tspan><tspan x="2686">CCCCGG</tspan></text></g>
<g id="leaf43" transform="translate(0 2235.1)"><circle class="lf" cx="1305" cy="0" r="9"/><text class="sp" x="1343" y="11">Ciconia maguari</text><text class="m" y="13"><tspan x="1665">A</tspan><tspan x="1716">C</tspan><tspan x="1830">AC</tspan><tspan x="1954">AAT</tspan><tspan x="2077">AT</tspan><tspan x="2211">A</tspan><tspan x="2265">AC</tspan><tspan x="2338">AAT</tspan><tspan x="2432">AAAC</tspan><tspan x="2551">AAAAC</tspan><tspan x="2686">CCCCGG</tspan></text></g>
<g id="leaf44" transform="translate(0 2285.7)"><circle class="lf" cx="1305" cy="0" r="9"/><text class="sp" x="1343" y="11">Gymnogyps californianus</text><text class="m" y="13"><tspan x="1665">A</tspan><tspan x="1716">C</tspan><tspan x="1830">AAT</tspan><tspan x="1954">AC</tspan><tspan x="2077">AGG</tspan><tspan x="2211">A</tspan><tspan x="2265">AC</tspan><tspan x="2338">AAT</tspan><tspan x="2432">AAAC</tspan><tspan x="2551">AAAAC</tspan><tspan x="2686">CCCCGG</tspan></text></g>
<g id="leaf45" transform="translate(0 2336.2)"><circle class="lf" cx="1305" cy="0" r="9"/><text class="sp" x="1343" y="11">Alca torda</text><text class="m" y="13"><tspan x="1665">A</tspan><tspan x="1716">C</tspan><tspan x="1830">AC</tspan><tspan x="1954">AT</tspan><tspan x="2077">AAAC</tspan><tspan x="2211">A</tspan><tspan x="2265">AC</tspan><tspan x="2338">AGG</tspan><tspan x="2432">AAAC</tspan><tspan x="2551">AAAAC</tspan><tspan x="2686">AAAAAG</tspan></text></g>
<g id="leaf46" transform="translate(0 2386.8)"><circle class="lf" cx="1305" cy="0" r="9"/><text class="sp" x="1343" y="11">Sterna hirundo</text><text class="m" y="13"><tspan x="1665">A</tspan><tspan x="1716">C</tspan><tspan x="1830">AC</tspan><tspan x="1954">AT</tspan><tspan x="2077">AAAC</tspan><tspan x="2211">A</tspan><tspan x="2265">AC</tspan><tspan x="2338">AGG</tspan><tspan x="2432">AAAC</tspan><tspan x="2551">AAAAC</tspan><tspan x="2686">AAAAAG</tspan></text></g>
<g id="leaf47" transform="translate(0 2437.3)"><circle class="lf" cx="1305" cy="0" r="9"/><text class="sp" x="1343" y="11">Pluvialis apricaria</text><text class="m" y="13"><tspan x="1665">A</tspan><tspan x="1716">C</tspan><tspan x="1830">AC</tspan><tspan x="1954">AGG</tspan><tspan x="2077">AAAC</tspan><tspan x="2211">A</tspan><tspan x="2265">AC</tspan><tspan x="2338">AGG</tspan><tspan x="2432">AAAC</tspan><tspan x="2551">AAAAC</tspan><tspan x="2686">AAAAAG</tspan></text></g>
<g id="leaf48" transform="translate(0 2487.9)"><circle class="lf" cx="1305" cy="0" r="9"/><text class="sp" x="1343" y="11">Falco naumanni</text><text class="m" y="13"><tspan x="1665">A</tspan><tspan x="1716">C</tspan><tspan x="1830">AC</tspan><tspan x="1954">AT</tspan><tspan x="2077">AAAC</tspan><tspan x="2211">A</tspan><tspan x="2265">AC</tspan><tspan x="2338">AAT</tspan><tspan x="2432">AAAC</tspan><tspan x="2551">AAAAC</tspan><tspan x="2686">AATCCC</tspan></text></g>
<g id="leaf49" transform="translate(0 2538.4)"><circle class="lf" cx="1305" cy="0" r="9"/><text class="sp" x="1343" y="11">Falco rusticolus</text><text class="m" y="13"><tspan x="1665">A</tspan><tspan x="1716">C</tspan><tspan x="1830">AC</tspan><tspan x="1954">AT</tspan><tspan x="2077">AAAC</tspan><tspan x="2211">A</tspan><tspan x="2265">AC</tspan><tspan x="2338">AAT</tspan><tspan x="2432">AAAC</tspan><tspan x="2551">AAAAC</tspan><tspan x="2686">AAAAAG</tspan></text></g>
<g id="leaf50" transform="translate(0 2589)"><circle class="lf" cx="1305" cy="0" r="9"/><text class="sp" x="1343" y="11">Aquila chrysaetos</text><text class="m" y="13"><tspan x="1665">A</tspan><tspan x="1716">C</tspan><tspan x="1830">AC</tspan><tspan x="1954">AT</tspan><tspan x="2077">AAAC</tspan><tspan x="2211">A</tspan><tspan x="2265">AC</tspan><tspan x="2338">AAT</tspan><tspan x="2432">AAAC</tspan><tspan x="2551">AAAAC</tspan><tspan x="2686">CCCCGG</tspan></text></g>
<g id="leaf51" transform="translate(0 2639.5)"><circle class="lf" cx="1305" cy="0" r="9"/><text class="sp" x="1343" y="11">Calypte anna</text><text class="m" y="13"><tspan x="1665">A</tspan><tspan x="1716">AT</tspan><tspan x="1830">AC</tspan><tspan x="1954">AAAC</tspan><tspan x="2077">C</tspan><tspan x="2211">A</tspan><tspan x="2265">AT</tspan><tspan x="2338">AAT</tspan><tspan x="2432">AAAC</tspan><tspan x="2551">AAAAC</tspan><tspan x="2686">AAAAAG</tspan></text></g>
<g id="leaf52" transform="translate(0 2690.1)"><circle class="lf" cx="1305" cy="0" r="9"/><text class="sp" x="1343" y="11">Caprimulgus europaeus</text><text class="m" y="13"><tspan x="1665">A</tspan><tspan x="1716">AT</tspan><tspan x="1830">AC</tspan><tspan x="1954">C</tspan><tspan x="2077">AAAC</tspan><tspan x="2211">A</tspan><tspan x="2265">AT</tspan><tspan x="2338">AAT</tspan><tspan x="2432">AAAC</tspan><tspan x="2551">AAAAT</tspan><tspan x="2686">AAAAAG</tspan></text></g>
<g id="leaf53" transform="translate(0 2740.6)"><circle class="lf" cx="1305" cy="0" r="9"/><text class="sp" x="1343" y="11">Nyctibius grandis</text><text class="m" y="13"><tspan x="1665">A</tspan><tspan x="1716">C</tspan><tspan x="1830">AC</tspan><tspan x="1954">AAT</tspan><tspan x="2077">AT</tspan><tspan x="2211">A</tspan><tspan x="2265">AC</tspan><tspan x="2338">AAT</tspan><tspan x="2432">AAAC</tspan><tspan x="2551">AAAAC</tspan><tspan x="2686">AAAAAG</tspan></text></g>
</g>

<g id="timescale">
<g id="ts-ages">
<rect x="24" y="2833" width="64" height="42" fill="#B3DE53"/>
<rect x="88" y="2833" width="53" height="42" fill="#BFE35D"/>
<rect x="141" y="2833" width="43" height="42" fill="#CCE968"/>
<rect x="184" y="2833" width="33" height="42" fill="#D9EF74"/>
<rect x="217" y="2833" width="168" height="42" fill="#E6F47F"/>
<rect x="385" y="2833" width="68" height="42" fill="#F2FA8C"/>
<rect x="453" y="2833" width="52" height="42" fill="#FDB462"/>
<rect x="505" y="2833" width="32" height="42" fill="#FEBF65"/>
<rect x="537" y="2833" width="41" height="42" fill="#FDBF6F"/>
<rect x="578" y="2833" width="104" height="42" fill="#FCA773"/>
<rect x="682" y="2833" width="90" height="42" fill="#FCB482"/>
<rect x="772" y="2833" width="43" height="42" fill="#FDC091"/>
<rect x="815" y="2833" width="49" height="42" fill="#FDCDA1"/>
<rect x="864" y="2833" width="71" height="42" fill="#FEC07A"/>
<rect x="935" y="2833" width="67" height="42" fill="#FEE6AA"/>
<rect x="1002" y="2833" width="33" height="42" fill="#FFFF41"/>
<rect x="1035" y="2833" width="57" height="42" fill="#FFFF4D"/>
<rect x="1092" y="2833" width="28" height="42" fill="#FFFF59"/>
<rect x="1120" y="2833" width="28" height="42" fill="#FFFF66"/>
<rect x="1148" y="2833" width="56" height="42" fill="#FFFF73"/>
<rect x="1204" y="2833" width="26" height="42" fill="#FFFF80"/>
<rect x="1230" y="2833" width="22" height="42" fill="#FFFFB3"/>
<rect x="1252" y="2833" width="13" height="42" fill="#FFFFBF"/>
<rect x="1265" y="2833" width="10" height="42" fill="#FFEDB3"/>
<rect x="1275" y="2833" width="13" height="42" fill="#FFF2C7"/>
<rect x="1288" y="2833" width="18" height="42" fill="#FFF2D3"/>
<text class="ts" x="33" y="2867">CEN</text>
<text class="ts" x="87" y="2867">TUR</text>
<text class="ts" x="224" y="2867">Campanian</text>
<text class="ts" x="392" y="2867">MAA</text>
<text class="ts" x="598" y="2867">YPR</text>
<text class="ts" x="700" y="2867">LUT</text>
<text class="ts" x="875" y="2867">RUP</text>
<text class="ts" x="943" y="2867">CHT</text>
<text class="ts" x="1041" y="2867">BUR</text>
<text class="ts" x="1157" y="2867">TOR</text>
</g>
<g id="ts-epochs">
<rect x="24" y="2875" width="429" height="42" fill="#A6D84A"/>
<rect x="453" y="2875" width="125" height="42" fill="#FDA75F"/>
<rect x="578" y="2875" width="286" height="42" fill="#FDB46C"/>
<rect x="864" y="2875" width="138" height="42" fill="#FDC07A"/>
<rect x="1002" y="2875" width="233" height="42" fill="#FFFF00"/>
<rect x="1235" y="2875" width="43" height="42" fill="#FFFF99"/>
<rect x="1278" y="2875" width="28" height="42" fill="#FFF2AE"/>
<text class="ts" x="198" y="2908">Upper</text>
<text class="ts" x="491" y="2908">PAL</text>
<text class="ts" x="672" y="2908">Eocene</text>
<text class="ts" x="910" y="2908">OLI</text>
<text class="ts" x="1062" y="2908">Miocene</text>
</g>
<g id="ts-periods">
<rect x="24" y="2917" width="429" height="42" fill="#7FC64E"/>
<rect x="453" y="2917" width="549" height="42" fill="#FD9A52"/>
<rect x="1002" y="2917" width="304" height="42" fill="#FFE619"/>
<text class="ts" x="157" y="2950">Cretaceous</text>
<text class="ts" x="653" y="2950">Paleogene</text>
<text class="ts" x="1096" y="2950">Neogene</text>
</g>
<g id="ts-eras">
<rect x="24" y="2959" width="429" height="42" fill="#67C5CA"/>
<rect x="453" y="2959" width="853" height="42" fill="#F2F91D"/>
<text class="ts" x="173" y="2992">Mesozoic</text>
<text class="ts" x="813" y="2992">Cenozoic</text>
</g>
<g id="ts-eons">
<rect x="24" y="3001" width="1282" height="41" fill="#9AD9DD"/>
<text class="ts" x="574" y="3033">Phanerozoic</text>
</g>
<path d="M24 2833H1306M24 2875H1306M24 2917H1306M24 2959H1306M24 3001H1306M24 3042H1306M24 2833V3042M1306 2833V3042" stroke="#8a8a8a" stroke-width="2.5" fill="none"/>
<text class="tl" x="1316" y="2867">Ages</text>
<text class="tl" x="1316" y="2908">Epochs</text>
<text class="tl" x="1316" y="2950">Periods</text>
<text class="tl" x="1316" y="2992">Eras</text>
<text class="tl" x="1316" y="3033">Eons</text>
<text class="ts" x="1432" y="2950" fill="#3366cc" style="fill:#3366cc">Geologic Timescale</text>
</g>
</svg>
